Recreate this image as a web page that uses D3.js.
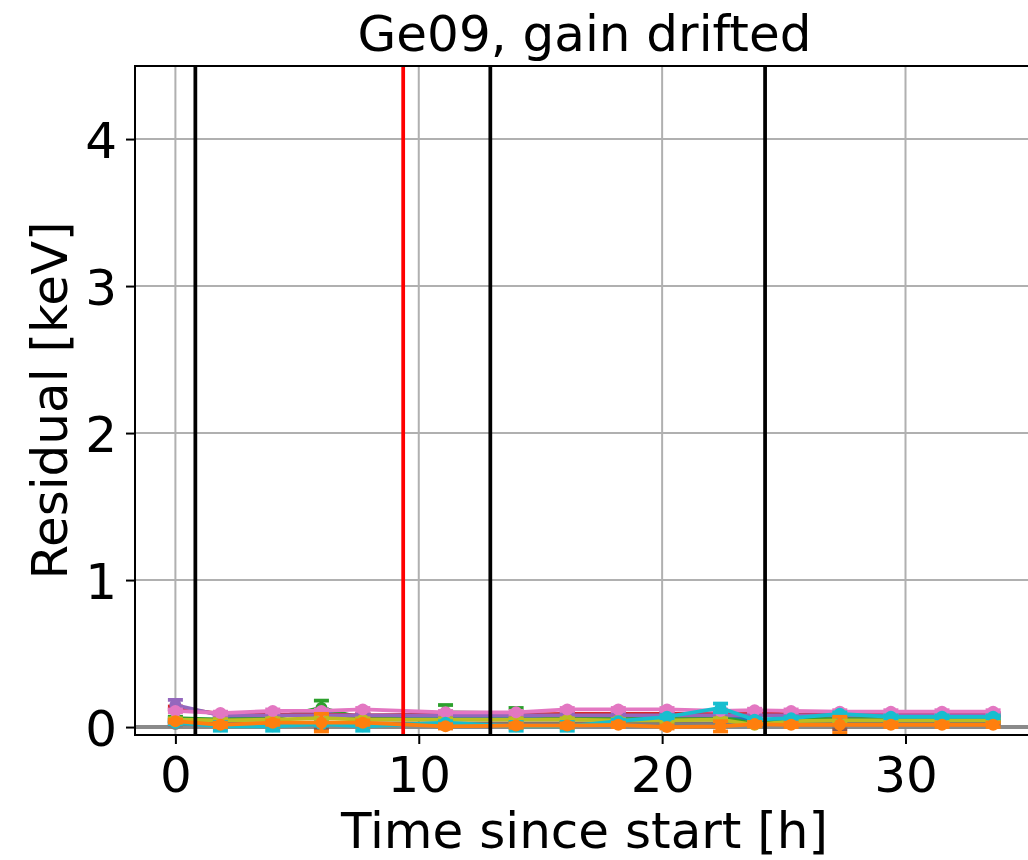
<!DOCTYPE html>
<html>
<head>
<meta charset="utf-8">
<script src="https://cdn.jsdelivr.net/npm/d3@7"></script>
<style>
  html, body { margin: 0; padding: 0; background: #fff; }
  svg { display: block; }
  text { font-family: "DejaVu Sans", sans-serif; }
</style>
</head>
<body>
<svg id="chart" width="1028" height="860"></svg>
<script>
// ---- data ----
const title = "Ge09, gain drifted";
const xLabel = "Time since start [h]";
const yLabel = "Residual [keV]";
const xTicks = [0, 10, 20, 30];
const yTicks = [0, 1, 2, 3, 4];
const times = [0, 1.85, 4.0, 6.0, 7.7, 11.1, 14.0, 16.1, 18.2, 20.2, 22.4, 23.8, 25.3, 27.3, 29.4, 31.5, 33.6];
const blackLines = [0.82, 12.94, 24.23];
const redLines = [9.36];
const blueVals   = [0.05, 0.05, 0.075, 0.10, 0.06, 0.07, 0.06, 0.06, 0.06, 0.06, 0.07, 0.05, 0.05, 0.06, 0.06, 0.06, 0.06];
const blueErr    = [0.015, 0.015, 0.015, 0.02, 0.015, 0.015, 0.015, 0.015, 0.015, 0.015, 0.015, 0.015, 0.015, 0.015, 0.015, 0.015, 0.015];
const orangeVals = [0.04, 0.015, 0.03, 0.03, 0.03, 0.005, 0.01, 0.01, 0.015, 0.0, 0.005, 0.02, 0.015, 0.015, 0.015, 0.015, 0.015];
const orangeErr  = [0.01, 0.015, 0.015, 0.06, 0.015, 0.015, 0.015, 0.015, 0.015, 0.01, 0.035, 0.015, 0.015, 0.055, 0.015, 0.015, 0.015];
const greenVals  = [0.06, 0.05, 0.06, 0.13, 0.06, 0.10, 0.095, 0.06, 0.06, 0.06, 0.07, 0.02, 0.06, 0.07, 0.07, 0.07, 0.07];
const greenErr   = [0.01, 0.01, 0.01, 0.05, 0.01, 0.05, 0.035, 0.01, 0.01, 0.01, 0.01, 0.01, 0.01, 0.01, 0.01, 0.01, 0.01];
const redVals    = [0.13, 0.09, 0.085, 0.085, 0.08, 0.085, 0.085, 0.09, 0.09, 0.09, 0.09, 0.10, 0.085, 0.085, 0.085, 0.085, 0.085];
const redErr     = [0.01, 0.01, 0.01, 0.01, 0.01, 0.01, 0.01, 0.01, 0.01, 0.01, 0.01, 0.01, 0.01, 0.01, 0.01, 0.01, 0.01];
const purpleVals = [0.15, 0.08, 0.08, 0.08, 0.08, 0.08, 0.08, 0.08, 0.08, 0.08, 0.08, 0.08, 0.08, 0.08, 0.08, 0.08, 0.08];
const purpleErr  = [0.035, 0.01, 0.01, 0.01, 0.01, 0.01, 0.01, 0.01, 0.01, 0.01, 0.01, 0.01, 0.01, 0.01, 0.01, 0.01, 0.01];
const brownVals  = [0.03, 0.025, 0.025, 0.03, 0.025, 0.025, 0.025, 0.025, 0.025, 0.025, 0.025, 0.02, 0.025, 0.025, 0.025, 0.025, 0.025];
const brownErr   = [0.01, 0.01, 0.01, 0.04, 0.01, 0.01, 0.01, 0.01, 0.01, 0.01, 0.01, 0.01, 0.01, 0.04, 0.01, 0.01, 0.01];
const pinkVals   = [0.11, 0.095, 0.11, 0.11, 0.12, 0.10, 0.10, 0.12, 0.12, 0.12, 0.11, 0.115, 0.11, 0.105, 0.105, 0.105, 0.105];
const pinkErr    = [0.01, 0.01, 0.01, 0.01, 0.01, 0.01, 0.01, 0.01, 0.01, 0.01, 0.01, 0.01, 0.01, 0.01, 0.01, 0.01, 0.01];
const grayVals   = [0.02, 0.02, 0.02, 0.02, 0.02, 0.02, 0.02, 0.02, 0.02, 0.02, 0.02, 0.02, 0.02, 0.02, 0.02, 0.02, 0.02];
const grayErr    = [0.01, 0.01, 0.01, 0.01, 0.01, 0.01, 0.01, 0.01, 0.01, 0.01, 0.01, 0.01, 0.01, 0.01, 0.01, 0.01, 0.01];
const oliveVals  = [0.05, 0.045, 0.05, 0.06, 0.05, 0.05, 0.05, 0.05, 0.045, 0.045, 0.05, 0.015, 0.04, 0.045, 0.045, 0.045, 0.045];
const oliveErr   = [0.01, 0.01, 0.01, 0.01, 0.01, 0.01, 0.01, 0.01, 0.01, 0.01, 0.01, 0.01, 0.01, 0.01, 0.01, 0.01, 0.01];
const cyanVals   = [0.03, 0.005, 0.005, 0.02, 0.005, 0.03, 0.005, 0.005, 0.04, 0.07, 0.13, 0.05, 0.06, 0.09, 0.07, 0.07, 0.07];
const cyanErr    = [0.01, 0.03, 0.03, 0.01, 0.03, 0.01, 0.03, 0.03, 0.01, 0.01, 0.03, 0.01, 0.01, 0.01, 0.01, 0.01, 0.01];

// drawing order (orange last so it stays on top near zero, as in the reference)
const series = [
  { c: "#1f77b4", v: blueVals, e: blueErr },
  { c: "#2ca02c", v: greenVals, e: greenErr },
  { c: "#d62728", v: redVals, e: redErr },
  { c: "#9467bd", v: purpleVals, e: purpleErr },
  { c: "#8c564b", v: brownVals, e: brownErr },
  { c: "#7f7f7f", v: grayVals, e: grayErr },
  { c: "#bcbd22", v: oliveVals, e: oliveErr },
  { c: "#e377c2", v: pinkVals, e: pinkErr },
  { c: "#17becf", v: cyanVals, e: cyanErr },
  { c: "#ff7f0e", v: orangeVals, e: orangeErr }
];

// ---- layout ----
const L = 135, R = 1034, T = 66, B = 735;
const x = d3.scaleLinear().domain([-1.66, 35.28]).range([L, R]);
const y = d3.scaleLinear().domain([-0.054, 4.497]).range([B, T]);
const FS = 50;

const svg = d3.select("#chart");
svg.append("defs").append("clipPath").attr("id", "clip")
  .append("rect").attr("x", L).attr("y", T).attr("width", R - L).attr("height", B - T);

// grid
const grid = svg.append("g");
grid.selectAll(".gx").data(xTicks).enter().append("line")
  .attr("x1", d => x(d)).attr("x2", d => x(d)).attr("y1", T).attr("y2", B)
  .attr("stroke", "#b0b0b0").attr("stroke-width", 2);
grid.selectAll(".gy").data(yTicks).enter().append("line")
  .attr("x1", L).attr("x2", R).attr("y1", d => y(d)).attr("y2", d => y(d))
  .attr("stroke", "#b0b0b0").attr("stroke-width", 2);

const plot = svg.append("g").attr("clip-path", "url(#clip)");

// zero line
plot.append("line").attr("x1", L).attr("x2", R).attr("y1", y(0)).attr("y2", y(0))
  .attr("stroke", "#8a8a8a").attr("stroke-width", 4);

// series
const lineGen = d3.line().x((d, i) => x(times[i])).y(d => y(d));
series.forEach(s => {
  const g = plot.append("g");
  s.v.forEach((v, i) => {
    const cx = x(times[i]);
    g.append("line").attr("x1", cx).attr("x2", cx)
      .attr("y1", y(v - s.e[i])).attr("y2", y(v + s.e[i]))
      .attr("stroke", s.c).attr("stroke-width", 3.75);
    [v - s.e[i], v + s.e[i]].forEach(e => {
      g.append("line").attr("x1", cx - 7.5).attr("x2", cx + 7.5)
        .attr("y1", y(e)).attr("y2", y(e))
        .attr("stroke", s.c).attr("stroke-width", 3.75);
    });
  });
  g.append("path").datum(s.v).attr("d", lineGen)
    .attr("fill", "none").attr("stroke", s.c).attr("stroke-width", 3.75)
    .attr("stroke-linejoin", "round");
  g.selectAll("circle").data(s.v).enter().append("circle")
    .attr("cx", (d, i) => x(times[i])).attr("cy", d => y(d)).attr("r", 6)
    .attr("fill", s.c);
});

// vertical lines
plot.selectAll(".bl").data(blackLines).enter().append("line")
  .attr("x1", d => x(d)).attr("x2", d => x(d)).attr("y1", T).attr("y2", B)
  .attr("stroke", "#000").attr("stroke-width", 3.75);
plot.selectAll(".rl").data(redLines).enter().append("line")
  .attr("x1", d => x(d)).attr("x2", d => x(d)).attr("y1", T).attr("y2", B)
  .attr("stroke", "#ff0000").attr("stroke-width", 3.75);

// spines
svg.append("rect").attr("x", L).attr("y", T).attr("width", R - L).attr("height", B - T)
  .attr("fill", "none").attr("stroke", "#000").attr("stroke-width", 2);

// x axis
const xAxis = svg.append("g").attr("transform", `translate(0,${B})`)
  .call(d3.axisBottom(x).tickValues(xTicks).tickSize(9).tickPadding(9).tickFormat(d3.format("d")));
xAxis.select(".domain").remove();
xAxis.selectAll("line").attr("stroke", "#000").attr("stroke-width", 2);
xAxis.selectAll("text").attr("font-size", FS).attr("fill", "#000")
  .attr("font-family", "DejaVu Sans").attr("dy", null).attr("y", 57);

// y axis
const yAxis = svg.append("g").attr("transform", `translate(${L},0)`)
  .call(d3.axisLeft(y).tickValues(yTicks).tickSize(9).tickPadding(9).tickFormat(d3.format("d")));
yAxis.select(".domain").remove();
yAxis.selectAll("line").attr("stroke", "#000").attr("stroke-width", 2);
yAxis.selectAll("text").attr("font-size", FS).attr("fill", "#000")
  .attr("font-family", "DejaVu Sans").attr("dy", null).attr("y", 18).attr("x", -18);

// labels
svg.append("text").attr("x", (L + R) / 2).attr("y", 51).attr("text-anchor", "middle")
  .attr("font-size", FS).attr("fill", "#000").text(title);
svg.append("text").attr("x", (L + R) / 2).attr("y", 848).attr("text-anchor", "middle")
  .attr("font-size", FS).attr("fill", "#000").text(xLabel);
svg.append("text").attr("transform", `translate(67,${(T + B) / 2}) rotate(-90)`)
  .attr("text-anchor", "middle").attr("font-size", FS).attr("fill", "#000").text(yLabel);
</script>
</body>
</html>
